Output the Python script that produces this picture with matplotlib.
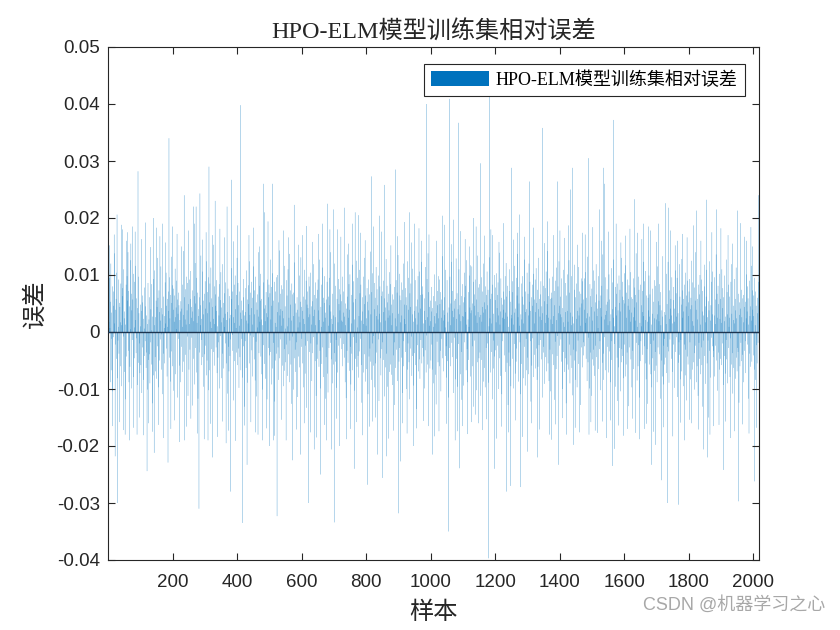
import matplotlib
matplotlib.use("Agg")
import matplotlib.pyplot as plt
from matplotlib.ticker import FuncFormatter
import numpy as np

# Relative error per training sample, in units of 1e-4
err_body = [
    62, -35, 18, 95, -41, 7, -88, 53, 120, -12, 34, -67, 80, 25, -104, 46, -9, 71, -56, 138, 15, -73, 39, -22, 58,
    -47, 104, 28, -81, 66, -15, 9, 92, -38, 51, -126, 44, 17, -60, 85, 31, -95, 12, 77, -29, 63, -8, 110, -52, 24,
    36, -70, 49, 13, -118, 83, 27, -43, 98, -6, 55, 140, -33, 72, -88, 19, 45, -61, 5, 126, -24, 67, -99, 38, 81,
    -14, 57, -79, 102, 30, -46, 8, 88, -65, 21, 116, -37, 59, -11, 74, -93, 42, 16, -54, 97, 33, -20, 128, -72, 48,
    10, -58, 91, 37, -107, 64, -27, 52, 23, -84, 135, 6, -42, 78, -16, 45, 99, -63, 29, -36, 70, -101, 14, 86, -49,
    75, 22, -39, 61, -90, 113, -18, 40, 84, -57, 3, 68, -125, 27, 50, -76, 93, -31, 12, 108, -44, 26, -69, 55, 17,
    -82, 44, 130, -25, 60, 11, -97, 73, 35, -50, 89, -13, 20, 115, -66, 42, -4, 79, -109, 31, 62, -38, 94, 7, -55,
    28, 87, -62, 15, 104, -29, 46, -78, 58, 9, -121, 71, 37, -19, 96, -45, 24, 65, -87, 13, 132, -34, 51, -60, 82,
    -21, 39, 76, -103, 18, 64, -48, 111, 26, -74, 43, 5, 90, -35, 57, -115, 32, 69, -12, 47, 100, -59, 21, -88, 36,
    54, -26, 118, 41, -70, 9, 83, -52, 30, 142, -17, 61, -94, 22, 75, -40, 13, 97, -63, 38, -8, 86, -112, 49, 27,
    -66, 92, 14, -31, 58, 107, -83, 25, 44, -10, 73, -129, 36, 81, -47, 19, 63, -92, 8, 121, -28, 50, 34, -71, 95,
    16, -53, 69, -117, 40, 28, 99, -36, 61, -85, 12, 47, 134, -58, 23, -14, 78, -44, 106, 31, -96, 55, 2, 67, -39,
    89, -24, 41, 11, -76, 124, -50, 33, 70, -15, 96, -102, 27, 52, -67, 85, 18, -41, 113, -30, 59, 7, -86, 44, 72,
    -35, 101, 23, -59, 80, 14, -110, 46, 66, -27, 37, 91, -72, 10, 128, -45, 62, -18, 29, 84, -99, 39, 56, -7, 105,
    43, -81, 17, 74, -38, 119, 25, -64, 51, 9, -93, 68, 32, -20, 87, 146, -55, 21, 60, -108, 35, 76, -26, 48, -69,
    24, 63, -42, 95, -13, 30, -87, 58, 112, -33, 71, -5, 44, -120, 26, 83, -51, 16, 99, -74, 40, 7, -36, 65, 130,
    -58, 19, 86, -29, 47, -98, 71, 11, -44, 136, 34, -67, 55, 23, -12, 104, -80, 38, 61, -25, 93, -131, 29, 52, -16,
    77, 35, -63, 20, 108, -40, 57, -89, 15, 49, 82, -21, 124, -55, 30, -6, 69, -104, 42, 88, -32, 13, 60, -78, 45,
    -9, 115, -48, 31, 73, -85, 24, 97, -17, 52, -113, 39, 8, 66, -60, 140, 27, -37, 81, -96, 18, 55, 102, -43, 22,
    58, -74, 36, 12, -101, 64, 87, -23, 41, -56, 125, 19, -82, 47, 70, -11, 33, -118, 92, 26, -49, 61, -28, 83, 14,
    -41, 68, 127, -35, 22, 79, -92, 46, -7, 103, -64, 31, 55, -19, 88, -122, 43, 16, 71, -50, 9, 96, -38, 60, 35,
    100, -27, 52, -84, 18, 143, -46, 29, 67, -13, 40, -105, 82, 11, -59, 75, 37, -95, 24, 58, -30, 116, -68, 45, 6,
    -53, 32, 91, -22, 64, -77, 10, 110, -39, 56, 25, -88, 137, -15, 48, 73, -57, 20, -126, 85, 42, -8, 66, -101, 28,
    69, 15, -46, 122, -31, 50, -70, 34, 94, -18, 61, -114, 39, 8, 78, -43, 27, 99, -62, 17, -85, 53, 131, -26, 44,
    -12, 86, -55, 37, -97, 62, 23, -40, 109, 14, -73, 57, -24, 90, 33, -133, 48, 71, -16, 42, -63, 26, 97, -35, 80,
    31, -68, 104, -20, 45, 13, -86, 76, 54, -37, 119, -9, 28, -94, 65, 39, -51, 12, 87, -112, 36, 59, -22, 74, -47,
    92, -15, 38, -61, 127, 21, -33, 70, -99, 44, 9, 83, -56, 30, 113, -27, 60, -79, 18, 51, -40, 98, 25, -117, 34,
    -44, 57, 19, 88, -73, 35, -106, 62, 11, -28, 95, 47, -64, 140, -19, 36, 72, -48, 23, -90, 67, 14, 105, -57, 29,
    63, -37, 120, 26, -52, 81, -14, 43, -98, 58, 32, -71, 17, 93, -24, 49, -132, 75, 38, -11, 66, -83, 20, 54, -30,
    18, 97, -60, 34, 71, -21, 107, -45, 27, -88, 50, 12, -116, 79, 41, -33, 62, 136, -54, 25, -6, 84, -68, 39, 101,
    -26, 46, -92, 65, 15, -38, 118, 30, -67, 52, -9, 89, 37, -103, 22, 74, -47, 58, -19, 125, 33, -61, 8, 95, -42,
    55, -80, 28, 109, -34, 68, -12, 41, 83, -58, 20, -124, 61, 36, -25, 97, 14, -71, 49, 130, -39, 26, -87, 64, 11,
    -65, 24, 77, -16, 53, -109, 38, 92, -43, 19, 66, -29, 141, -52, 31, 9, -84, 70, 45, -20, 103, -59, 35, -7, 86,
    40, -97, 60, 13, -55, 114, 28, -36, 75, -68, 47, 22, -13, 99, -121, 56, 32, 80, -46, 17, -76, 63, 121, -30, 50,
    -18, 71, -49, 35, 90, -27, 59, -113, 20, 43, -62, 128, 16, -38, 81, 52, -96, 25, 67, -11, 38, -70, 105, 29, -57,
    84, 21, -75, 48, 12, -93, 66, 33, 117, -41, 57, -18, 79, -128, 24, 46, -63, 91, 10, -31, 69, -86, 42, 135, -24,
    32, -52, 102, -28, 64, -84, 17, 56, -45, 87, 29, -107, 39, 74, -16, 120, -60, 23, 48, -90, 14, 77, -35, 61, -100,
    47, 8, -66, 124, -20, 39, 95, -53, 26, -118, 68, 44, -29, 85, -8, 52, -77, 31, 111, -42, 60, 18, -94, 37, 73,
    -37, 91, 24, -58, 45, -135, 72, 13, 57, -23, 98, -69, 34, 16, -48, 106, -82, 41, 65, -14, 29, 123, -55, 80, -28,
    66, -43, 15, 82, -99, 37, 59, -32, 114, 21, -71, 48, -6, 93, -57, 26, 138, -38, 70, -103, 44, 11, -64, 55, 19,
    -50, 79, 36, -22, 117, -66, 42, 9, -90, 63, 28, -39, 101, 15, -75, 54, -127, 33, 86, -17, 47, 72, -53, 24, 98,
    14, -60, 92, 49, -33, 70, -104, 25, 57, -12, 85, -46, 133, 38, -69, 20, 61, -91, 30, 8, -42, 109, -25, 67, -80,
    91, 34, -51, 18, 76, -115, 43, 65, -28, 97, -60, 12, 50, -86, 123, -19, 37, 72, -44, 26, 89, -107, 55, -10, 41,
    -30, 58, -83, 129, 23, -47, 68, 16, -96, 40, 79, -21, 110, -56, 31, 47, -74, 94, 19, -35, 63, -119, 28, 84, -13,
    52, -94, 27, 61, -18, 104, -42, 35, 81, -67, 13, 126, -30, 55, -88, 22, 70, -49, 9, 99, -26, 43, -78, 117, 33,
    -71, 38, 115, -25, 50, -60, 88, 21, -131, 46, 66, -15, 92, -41, 29, 73, -102, 57, 16, -53, 134, 35, -22, 78, -46,
    26, 84, -36, 59, -112, 30, 96, -49, 18, 71, -8, 44, -87, 120, 34, -63, 52, 11, -97, 80, 40, -28, 65, -58, 106,
    -20, 47, 74, -89, 37, 10, -55, 131, 24, -71, 58, 90, -35, 15, 67, -118, 46, 83, -15, 32, -64, 100, 21, -43, 56,
    78, -32, 17, 103, -59, 42, 65, -24, 87, -100, 29, 51, -46, 139, 13, -77, 36, 94, -30, 60, -109, 25, 48, -16, 71,
    39, -85, 57, 23, -41, 98, -70, 34, 121, -19, 62, -54, 27, 81, -128, 45, 9, -36, 72, 110, -60, 18, 53, -95, 30,
    -63, 24, 89, -47, 70, 13, -99, 56, 34, -21, 116, -73, 41, 18, -52, 95, -29, 64, 137, -40, 26, 79, -87, 50, 11,
    73, -18, 44, -109, 31, 85, -56, 22, 62, -37, 98, 15, -81, 48, 127, -26, 59, -94, 35, 71, -12, 40, -67, 104, 20,
    -45, 67, 29, -74, 120, -33, 53, 88, -16, 37, -122, 61, 24, -59, 83, 46, -11, 102, -79, 30, 57, -40, 15, 92, -64,
    35, 112, -29, 51, -84, 19, 74, -61, 40, 130, -23, 58, -97, 27, 66, -14, 89, -48, 21, 45, -115, 70, 33, -36, 81,
    -26, 54, -91, 38, 77, -44, 16, 106, -69, 30, 49, -20, 142, -55, 63, 25, -86, 39, 94, -31, 58, -104, 22, 69, -9,
    60, -39, 97, 14, -58, 83, 28, -119, 47, 72, -17, 38, 90, -65, 21, 113, -42, 55, -7, 80, -92, 33, 124, -24, 46,
    -79, 31, 62, -13, 94, -52, 26, 75, -100, 42, 17, -35, 109, -70, 58, 9, -46, 86, 35, -125, 64, 20, -57, 101, 37,
    18, -66, 48, 126, -22, 69, -90, 34, 55, -41, 12, 98, -63, 27, 80, -111, 45, 15, -31, 74, 118, -50, 39, -84, 61,
    -34, 85, 23, -97, 52, 37, -15, 114, -56, 29, 71, -80, 43, 11, -128, 67, 94, -27, 50, -62, 31, 89, -18, 57, -41,
    94, -25, 39, -68, 16, 105, -47, 60, 24, -86, 132, 33, -53, 72, -10, 48, -99, 27, 84, -36, 63, 17, -112, 44, 76,
    -48, 20, 73, -31, 108, -59, 36, 90, -77, 14, 52, -24, 119, -44, 66, 28, -93, 41, 7, -65, 98, 55, -30, 84, -16,
    42, -102, 64, 27, -18, 81, -54, 33, 136, -38, 59, -84, 22, 71, -9, 96, -67, 30, 48, -118, 37, 75, -26, 53, 12,
    -71, 45, 101, -34, 57, 19, -88, 66, 31, -49, 112, -16, 40, -76, 87, 25, -58, 127, -21, 63, 10, -96, 44, 79, -37,
    29, 67, -45, 85, -121, 38, 14, -62, 99, 51, -28, 74, -104, 36, 17, -53, 130, -30, 62, 88, -42, 23, -81, 56, 103,
    -22, 50, -78, 33, 117, -57, 25, 69, -36, 92, -13, 46, -130, 58, 82, -27, 39, -70, 105, 18, -48, 61, 34, -97, 70,
    58, -33, 26, 94, -65, 43, -107, 78, 20, -44, 65, 138, -19, 52, -85, 30, 9, -60, 97, -23, 74, -115, 41, 16, -51,
    83, -16, 47, 10, -93, 72, 35, -40, 123, -68, 28, 56, -25, 89, -55, 107, 21, -83, 44, 64, -30, 18, -126, 60, 38,
    -39, 99, -57, 27, 66, -21, 111, -74, 45, 13, -97, 32, 76, -46, 120, -15, 53, 24, -68, 91, -35, 47, 81, -59, 22,
    65, -88, 31, 115, -27, 54, -64, 19, 84, -39, 47, -117, 70, 12, -50, 95, 38, -78, 27, 133, -24, 60, -92, 35, -12,
    -57, 30, 86, -45, 14, 102, -72, 49, -26, 67, 123, -34, 56, -89, 23, 73, -13, 41, -106, 58, 29, -47, 96, 15, -70,
    37, 79, -22, 56, -98, 41, 18, -61, 108, -35, 68, -9, 27, 95, -114, 50, 33, -54, 86, -18, 119, -40, 62, 11, -83,
    -14, 48, -69, 128, 25, -50, 73, 36, -95, 58, -22, 83, 16, -76, 104, -31, 45, -120, 64, 21, -43, 90, -57, 28, 52,
    71, -36, 93, -18, 40, -83, 60, 125, -29, 47, -66, 19, 87, -53, 32, 11, -101, 78, -37, 55, 140, -24, 39, -88, 26,
    -60, 22, 58, -112, 83, 34, -19, 66, -47, 100, 13, -74, 51, -27, 92, -58, 36, 72, -131, 29, 57, -15, 80, -42, 118,
    45, -91, 17, 62, -30, 109, -55, 26, 77, -15, 54, -96, 38, 124, -33, 64, -80, 20, 47, -10, 88, -63, 31, 106, -25,
    -33, 70, -44, 29, 96, -78, 14, 57, -24, 136, -50, 39, 67, -103, 25, 81, -36, 49, -11, 102, -66, 23, 58, -47, 87,
    16, -58, 110, 42, -20, 77, -93, 35, 61, -42, 19, 99, -73, 27, 52, -14, 127, -48, 70, 31, -90, 44, -28, 83, 9,
    62, 25, -79, 50, -11, 88, -57, 119, 32, -37, 70, -108, 21, 46, -63, 93, 15, -26, 58, -82, 38, 113, -45, 24, -69,
    -28, 86, -35, 67, 18, -124, 52, 30, -60, 97, 41, -19, 74, -51, 26, 130, -40, 59, -88, 17, 65, -33, 92, 44, -16,
    53, -72, 24, 101, -45, 36, 80, -22, 59, -117, 13, 68, -38, 90, 28, -61, 45, -97, 116, 20, -52, 73, -9, 39, 64,
    -41, 28, 95, -66, 37, 12, -84, 71, 46, -23, 107, -55, 33, 60, -19, 88, 24,
]

# Medium-sized errors (about 0.015-0.019): sample number -> error (1e-4)
mid_samples = [
    5, 14, 19, 36, 41, 49, 57, 66, 71, 80, 84, 98, 103, 111, 117, 126, 131, 137, 150, 156,
    161, 173, 178, 195, 201, 207, 214, 221, 228, 244, 250, 257, 269, 277, 292, 298, 304, 318, 327, 340,
    347, 354, 361, 374, 388, 395, 402, 424, 437, 443, 450, 457, 470, 491, 496, 517, 530, 537, 545, 552,
    560, 584, 590, 608, 615, 627, 633, 646, 652, 671, 688, 708, 722, 739, 746, 752, 758, 771, 783, 790,
    797, 810, 823, 829, 848, 870, 877, 884, 898, 913, 920, 927, 941, 957, 964, 979, 995, 1012, 1019, 1026,
    1043, 1049, 1064, 1076, 1093, 1100, 1107, 1114, 1121, 1126, 1141, 1161, 1168, 1174, 1187, 1205, 1212, 1219, 1227, 1241,
    1258, 1264, 1270, 1285, 1292, 1313, 1320, 1338, 1354, 1375, 1381, 1387, 1401, 1408, 1415, 1422, 1428, 1448, 1455, 1462,
    1479, 1497, 1503, 1510, 1530, 1545, 1552, 1558, 1575, 1582, 1590, 1597, 1604, 1611, 1618, 1625, 1641, 1648, 1655, 1669,
    1676, 1690, 1701, 1722, 1744, 1751, 1758, 1774, 1781, 1788, 1795, 1802, 1815, 1831, 1838, 1866, 1872, 1894, 1900, 1915,
    1922, 1929, 1936, 1943, 1960, 1966, 1973, 1987, 1993, 2011,
]
mid_values = [
    152, -165, 171, -158, 188, -172, 160, -190, 155, -168, 176, -150, 163, -181, 192, -160, 149, -175, 183, -163,
    168, -186, 157, -170, 185, -155, 172, -193, 150, -166, 178, -152, 190, -178, 162, -188, 175, -161, 153, -184,
    181, -157, 166, -173, 159, -191, 187, -164, 170, -158, 183, -176, 150, -169, 194, -182, 161, -154, 178, -190,
    166, -171, 153, -160, 186, -176, 158, -185, 172, -163, 180, -152, 167, -188, 155, -170, 190, -158, 174, -181,
    161, -166, 185, -150, 176, -187, 152, -173, 168, -160, 193, -178, 157, -169, 182, -156, 171, -183, 160, -174,
    188, -161, 154, -190, 177, -165, 163, -179, 150, -158, 185, -172, 169, -153, 180, -187, 158, -166, 191, -176,
    162, -155, 174, -184, 167, -160, 183, -171, 156, -189, 170, -162, 178, -151, 165, -180, 187, -168, 153, -176,
    171, -158, 184, -173, 160, -186, 176, -155, 190, -164, 157, -182, 169, -170, 181, -152, 174, -188, 163, -161,
    185, -175, 158, -167, 178, -183, 152, -159, 172, -190, 166, -154, 187, -171, 160, -180, 175, -163, 182, -157,
    170, -186, 155, -174, 191, -162, 167, -178, 184, -168,
]

# Largest individual errors: sample number -> error (1e-4)
peak_samples = [
    28, 45, 60, 75, 93, 140, 168, 189, 236, 264, 273, 285, 313, 323, 332, 369, 382, 410, 481, 486,
    509, 577, 602, 664, 681, 698, 711, 732, 766, 776, 816, 841, 856, 891, 934, 950, 971, 987, 1036, 1058,
    1071, 1086, 1133, 1154, 1182, 1192, 1251, 1276, 1306, 1347, 1362, 1393, 1434, 1440, 1471, 1489, 1524, 1536, 1539, 1567,
    1632, 1660, 1682, 1707, 1728, 1738, 1766, 1825, 1855, 1887, 1952, 1980, 1998, 2017,
]
peak_values = [
    206, 180, 175, 185, 282, 200, 190, 340, 240, 220, 220, 243, 290, 170, 230, 220, 267, 398, 260, 210,
    260, 223, 170, 190, 225, 215, 180, 218, 210, 205, 273, 204, 258, 285, 210, 190, 160, 400, 204, 409,
    197, 367, 200, 296, 416, 170, 288, 206, 264, 358, 194, 264, 250, 288, 174, 305, 215, 288, 260, 372,
    233, 190, 178, 190, 226, 218, 160, 213, 232, 215, 213, 160, 150, 240,
]
trough_samples = [
    22, 30, 53, 90, 121, 143, 186, 238, 282, 310, 325, 366, 379, 416, 431, 465, 478, 500, 512, 524,
    571, 596, 621, 639, 658, 678, 692, 701, 717, 763, 804, 819, 835, 850, 863, 900, 906, 946, 993, 1005,
    1055, 1083, 1089, 1139, 1148, 1180, 1198, 1235, 1247, 1278, 1300, 1331, 1368, 1396, 1442, 1491, 1517, 1533, 1564, 1570,
    1635, 1662, 1684, 1697, 1716, 1735, 1769, 1809, 1846, 1859, 1862, 1877, 1908, 1955, 2005,
]
trough_values = [
    -218, -300, -180, -180, -244, -212, -229, -190, -310, -190, -220, -195, -280, -335, -233, -180, -190, -200, -190, -323,
    -225, -215, -300, -206, -250, -190, -206, -334, -200, -240, -268, -157, -215, -256, -218, -318, -227, -200, -165, -215,
    -350, -174, -239, -145, -160, -397, -240, -280, -270, -272, -210, -220, -180, -233, -198, -180, -177, -157, -235, -205,
    -177, -170, -233, -198, -260, -300, -303, -160, -206, -220, -150, -165, -242, -297, -262,
]

title = "HPO-ELM模型训练集相对误差"
xlabel = "样本"
ylabel = "误差"

err = np.array(err_body, dtype=float)
for s, v in zip(mid_samples + peak_samples + trough_samples,
                mid_values + peak_values + trough_values):
    err[s - 1] = v
err = err * 1e-4
samples = np.arange(1, len(err) + 1)

serif_cjk = ["Liberation Serif", "Noto Sans CJK SC"]
sans = ["Liberation Sans", "DejaVu Sans"]
plt.rcParams["font.family"] = sans

fig = plt.figure(figsize=(8.4, 6.3), dpi=100)
ax = fig.add_axes([108 / 840, 1 - 560 / 630, 651 / 840, 513 / 630])

bars = ax.bar(samples, err, width=0.9, color="#0072BD", linewidth=0, label=title)
for b in bars:
    b.set_snap(False)
ax.axhline(0, color="#1d3550", linewidth=1.0, zorder=3)

ax.set_xlim(0, len(err) + 1)
ax.set_ylim(-0.04, 0.05)
ax.set_xticks(np.arange(200, 2001, 200))
ax.set_yticks(np.arange(-0.04, 0.0501, 0.01))
ax.yaxis.set_major_formatter(FuncFormatter(lambda v, p: "0" if abs(v) < 1e-9 else f"{v:.2f}"))
ax.tick_params(direction="in", length=5, width=0.8, top=True, right=True,
               labelsize=13.5, colors="#262626")
ax.tick_params(axis="x", pad=10)
ax.tick_params(axis="y", pad=6)
for sp in ax.spines.values():
    sp.set_linewidth(0.8)
    sp.set_color("#262626")

ax.set_title(title, family=serif_cjk, fontsize=17.4, color="#262626", pad=6)
ax.set_xlabel(xlabel, family=serif_cjk, fontsize=17.5, color="#262626", labelpad=8)
ax.set_ylabel(ylabel, family=serif_cjk, fontsize=17.5, color="#262626", labelpad=7)

leg = ax.legend(loc="upper right", bbox_to_anchor=((745 - 108) / 651, 1 - (64 - 47) / 513),
                borderaxespad=0, fancybox=False, framealpha=1, edgecolor="#262626",
                prop={"family": serif_cjk, "size": 13}, handlelength=3.2, handleheight=0.9,
                borderpad=0.4, handletextpad=0.4)
leg.get_frame().set_linewidth(0.8)

fig.text(0.982, 0.025, "CSDN @机器学习之心", ha="right", va="bottom", fontsize=13,
         color="#a8a8a8", family=["Liberation Sans", "Noto Sans CJK SC"])

fig.savefig("out.png", dpi=100)
